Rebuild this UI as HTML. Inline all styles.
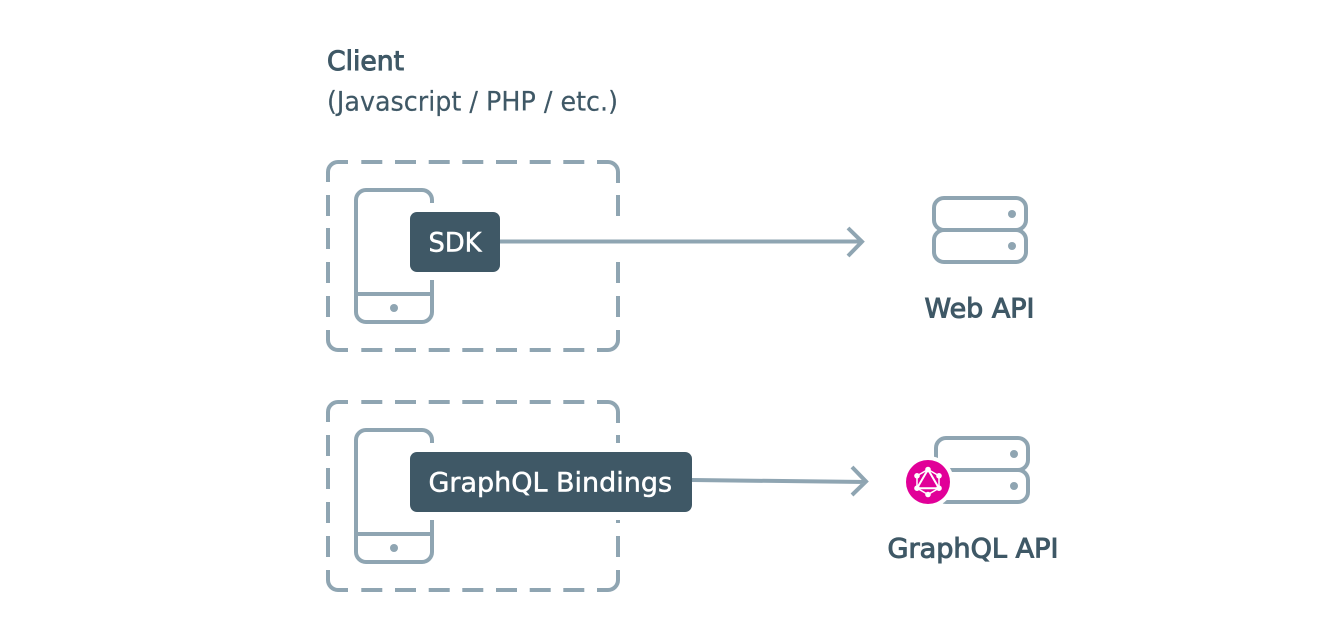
<!DOCTYPE html>
<html><head><meta charset="utf-8"><style>
html,body{margin:0;padding:0;background:#fff;width:1340px;height:632px;overflow:hidden}
svg{display:block}
text{font-family:"DejaVu Sans","Liberation Sans",sans-serif;font-size:27px;fill:#3f5866}
.s{stroke:#3f5866;stroke-width:1px}
.w{fill:#fff;stroke:#fff;stroke-width:.5px}
.r{stroke:#3f5866;stroke-width:.2px}
.l{fill:none;stroke:#8fa5b2;stroke-width:4}
</style></head><body>
<svg width="1340" height="632" viewBox="0 0 1340 632" xmlns="http://www.w3.org/2000/svg">
<text class="s" x="327" y="70" textLength="77" lengthAdjust="spacingAndGlyphs">Client</text>
<text class="r" x="327" y="110.500" textLength="291" lengthAdjust="spacingAndGlyphs">(Javascript / PHP / etc.)</text>

<path class="l" d="M328 182V172a10 10 0 0 1 10-10H348M361.3 162h21M395 162h21M428.7 162h21M462.3 162h21M496 162h21M529.7 162h21M563.3 162h21M597 162h11a10 10 0 0 1 10 10V183M618 195v21M618 262v21M618 296v21M618 330v10a10 10 0 0 1-10 10H597M584.3 350h-21M550.7 350h-21M517 350h-21M483.3 350h-21M449.7 350h-21M416 350h-21M382.3 350h-21M348 350H338a10 10 0 0 1-10-10V330M328 317v-21M328 283v-21M328 249v-21M328 216v-21"/>
<path class="l" d="M432 203V200a10 10 0 0 0-10-10H366a10 10 0 0 0-10 10V312a10 10 0 0 0 10 10H422a10 10 0 0 0 10-10V280M356 294H432"/>
<circle cx="394" cy="308" r="4" fill="#8fa5b2"/>
<rect x="410" y="212" width="90" height="60" rx="7" fill="#3f5866"/>
<text class="w" x="428.500" y="251.500" textLength="53" lengthAdjust="spacingAndGlyphs">SDK</text>
<path class="l" d="M500 241.500H862M848 228L862 241.700L848 256"/>

<path class="l" d="M328 422V412a10 10 0 0 1 10-10H348M361.3 402h21M395 402h21M428.7 402h21M462.3 402h21M496 402h21M529.7 402h21M563.3 402h21M597 402h11a10 10 0 0 1 10 10V423M618 435v8M618 520v3M618 536v21M618 570v10a10 10 0 0 1-10 10H597M584.3 590h-21M550.7 590h-21M517 590h-21M483.3 590h-21M449.7 590h-21M416 590h-21M382.3 590h-21M348 590H338a10 10 0 0 1-10-10V570M328 557v-21M328 523v-21M328 489v-21M328 456v-21"/>
<path class="l" d="M432 443V440a10 10 0 0 0-10-10H366a10 10 0 0 0-10 10V552a10 10 0 0 0 10 10H422a10 10 0 0 0 10-10V520M356 534H432"/>
<circle cx="394" cy="548" r="4" fill="#8fa5b2"/>
<rect x="410" y="452" width="282" height="60" rx="7" fill="#3f5866"/>
<text class="w" x="428.500" y="491.500" textLength="243.500" lengthAdjust="spacingAndGlyphs">GraphQL Bindings</text>
<path class="l" d="M692 480L866 482M852 467L866 481.500L852 495"/>

<path class="l" d="M944 198H1016a10 10 0 0 1 10 10V220a10 10 0 0 1-10 10H944a10 10 0 0 1-10-10V208a10 10 0 0 1 10-10ZM944 230H1016a10 10 0 0 1 10 10V252a10 10 0 0 1-10 10H944a10 10 0 0 1-10-10V240a10 10 0 0 1 10-10Z"/>
<circle cx="1012" cy="214" r="4" fill="#8fa5b2"/><circle cx="1012" cy="246" r="4" fill="#8fa5b2"/>
<text class="s" x="924.500" y="317.500" textLength="110" lengthAdjust="spacingAndGlyphs">Web API</text>

<path class="l" d="M946 438H1018a10 10 0 0 1 10 10V460a10 10 0 0 1-10 10H946a10 10 0 0 1-10-10V448a10 10 0 0 1 10-10ZM946 470H1018a10 10 0 0 1 10 10V492a10 10 0 0 1-10 10H946a10 10 0 0 1-10-10V480a10 10 0 0 1 10-10Z"/>
<circle cx="1014" cy="454" r="4" fill="#8fa5b2"/><circle cx="1014" cy="486" r="4" fill="#8fa5b2"/>
<circle cx="928" cy="482" r="26" fill="#fff"/>
<circle cx="928" cy="482" r="22" fill="#e10098"/>
<g fill="none" stroke="#fff" stroke-width="1.5">
<path d="M928 469.500L939 475.800V488.200L928 494.500L917 488.200V475.800Z"/>
<path d="M928 469.500L939 488.200H917Z" stroke-width="2"/>
</g>
<g fill="#fff">
<circle cx="928" cy="469.500" r="2.8"/><circle cx="939" cy="475.800" r="2.8"/><circle cx="939" cy="488.200" r="2.8"/>
<circle cx="928" cy="494.500" r="2.8"/><circle cx="917" cy="488.200" r="2.8"/><circle cx="917" cy="475.800" r="2.8"/>
</g>
<text class="s" x="887.500" y="557.500" textLength="171" lengthAdjust="spacingAndGlyphs">GraphQL API</text>
</svg>
</body></html>
